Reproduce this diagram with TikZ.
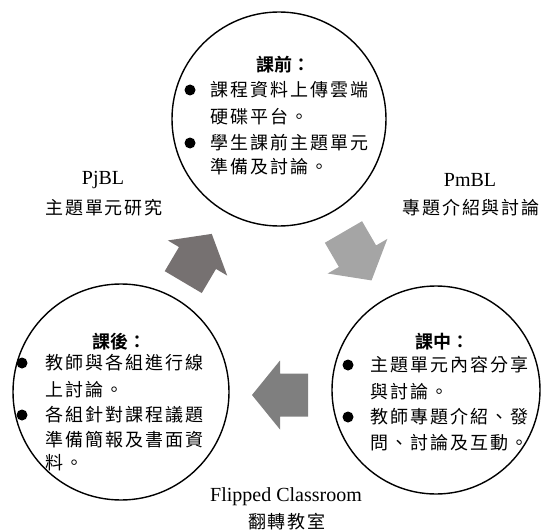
\documentclass[tikz,border=0pt]{standalone}
\usepackage{fontspec}
\setmainfont{Liberation Serif}
\newfontfamily\cjk[LetterSpace=11]{Noto Sans CJK TC}
\newfontfamily\cjkbold{Noto Sans CJK TC Bold}
\definecolor{arrA}{HTML}{767171}
\definecolor{arrB}{HTML}{A5A5A5}
\definecolor{arrC}{HTML}{7F7F7F}
\tikzset{
  phase/.style={circle, draw=black, line width=1.4pt, inner sep=0pt},
  txt/.style={anchor=west, inner sep=0pt, font=\cjk\fontsize{18}{18}\selectfont},
  hdr/.style={inner sep=0pt, font=\cjkbold\fontsize{18}{18}\selectfont},
  dot/.style={circle, fill=black, inner sep=0pt, minimum size=11pt},
  latin/.style={inner sep=0pt, font=\fontsize{20}{20}\selectfont},
  cjklabel/.style={inner sep=0pt, font=\cjk\fontsize{18}{18}\selectfont},
}
\newcommand{\blockarrow}[4]{%
  \fill[#4] [shift={(#1,#2)}, rotate=#3]
    (-28,-21.5) -- (0,-21.5) -- (0,-34.5) -- (28,0) -- (0,34.5) -- (0,21.5) -- (-28,21.5) -- cycle;}
\begin{document}
\begin{tikzpicture}[x=1pt,y=-1pt]
\useasboundingbox (0,0) rectangle (543,532);
% circles
\node[phase, minimum size=214pt] (before) at (279,119) {};
\node[phase, minimum size=216pt] (after) at (121,392) {};
\node[phase, minimum size=208pt] (during) at (436,390) {};
% top circle text
\node[hdr] (h1) at (283,65) {課前：};
\node[dot] (b11) at (190,90) {};
\node[txt] (t11) at (210,90) {課程資料上傳雲端};
\node[txt] (t12) at (210,116.5) {硬碟平台。};
\node[dot] (b12) at (190,143) {};
\node[txt] (t13) at (210,143) {學生課前主題單元};
\node[txt] (t14) at (210,167) {準備及討論。};
% bottom-left circle text
\node[hdr] (h2) at (119,342) {課後：};
\node[dot] (b21) at (22,363) {};
\node[txt] (t21) at (45,363) {教師與各組進行線};
\node[txt] (t22) at (45,390) {上討論。};
\node[dot] (b22) at (22,415) {};
\node[txt] (t23) at (45,415) {各組針對課程議題};
\node[txt] (t24) at (45,440) {準備簡報及書面資};
\node[txt] (t25) at (45,463) {料。};
% bottom-right circle text
\node[hdr] (h3) at (442,342) {課中：};
\node[dot] (b31) at (348,365) {};
\node[txt] (t31) at (370,365) {主題單元內容分享};
\node[txt] (t32) at (370,392) {與討論。};
\node[dot] (b32) at (348,417) {};
\node[txt] (t33) at (370,417) {教師專題介紹、發};
\node[txt] (t34) at (370,443) {問、討論及互動。};
% labels
\node[latin] (pj) at (103,180) {PjBL};
\node[cjklabel] (pjc) at (104,208) {主題單元研究};
\node[latin] (pm) at (470,180) {PmBL};
\node[cjklabel] (pmc) at (471,208) {專題介紹與討論};
\node[latin] (fc) at (286,497) {Flipped Classroom};
\node[cjklabel] (fcc) at (287,522) {翻轉教室};
% block arrows
\blockarrow{197.5}{258}{59.4}{arrA}
\blockarrow{357.5}{256.2}{-59.9}{arrB}
\blockarrow{280}{395}{180}{arrC}
\end{tikzpicture}
\end{document}
